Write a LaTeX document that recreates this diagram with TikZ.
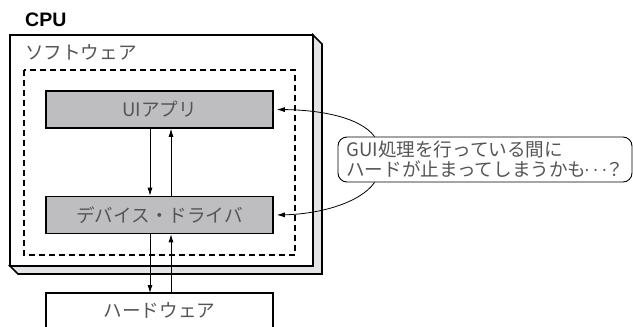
\documentclass[tikz,border=0pt]{standalone}
\usepackage{fontspec}
\setmainfont{Liberation Sans}
\newfontfamily\jp{Noto Sans CJK JP}
\usetikzlibrary{arrows.meta}
\definecolor{boxgray}{RGB}{190,190,193}
\definecolor{sidegray}{RGB}{228,228,230}
\definecolor{txtgray}{RGB}{85,85,85}
\newcommand{\midellip}{\makebox[1em][c]{\raisebox{0.08em}{\rmfamily ·\hspace{0.14em}·\hspace{0.14em}·}}}
\begin{document}
\begin{tikzpicture}[x=1pt,y=-1pt,
  jtext/.style={font=\jp\fontsize{18.6}{20}\selectfont, text=txtgray, inner sep=0pt},
  graybox/.style={draw=black, line width=1.6pt, fill=boxgray, minimum width=227pt, minimum height=37pt, inner sep=0pt, font=\jp\fontsize{18.6}{20}\selectfont, text=txtgray},
  conn/.style={line width=0.8pt, -{Latex[length=8pt,width=5pt]}},
  callout/.style={draw=black, line width=0.9pt, rounded corners=9pt, minimum width=294pt, minimum height=45pt, inner sep=0pt, align=left, font=\jp\fontsize{18.6}{20}\selectfont, text=txtgray}]
\useasboundingbox (0,0) rectangle (633,327);
% CPU 3D box
\draw[line width=1.6pt, fill=sidegray] (313,35) -- (322,44) -- (322,274) -- (18,274) -- (10,266) -- (313,266) -- cycle;
\draw[line width=1.6pt, fill=white] (10,35) rectangle (313,266);
\node[font=\bfseries\fontsize{19.5}{20}\selectfont, anchor=west, inner sep=0pt] (cpu) at (25,20) {CPU};
\node[jtext, anchor=west] (sw) at (25,52) {ソフトウェア};
\draw[line width=1.5pt, dash pattern=on 6pt off 4pt] (24,70) rectangle (295,255);
% boxes
\node[graybox] (ui) at (159.5,109.5) {UIアプリ};
\node[graybox] (dev) at (159.5,215) {デバイス・ドライバ};
\node[minimum width=227pt, minimum height=34pt, inner sep=0pt, anchor=north] (hw) at (159.5,293) {};
\draw[line width=1.6pt] (hw.south west) -- (hw.north west) -- (hw.north east) -- (hw.south east);
\node[jtext] (hwt) at (159.5,310) {ハードウェア};
% vertical arrows
\draw[conn] ([xshift=-9.5pt]ui.south) -- ([xshift=-9.5pt]dev.north);
\draw[conn] ([xshift=11.5pt]dev.north) -- ([xshift=11.5pt]ui.south);
\draw[conn] ([xshift=-9.5pt]dev.south) -- ([xshift=-9.5pt]hw.north);
\draw[conn] ([xshift=11.5pt]hw.north) -- ([xshift=11.5pt]dev.south);
% callout
\node[callout] (call) at (485,159.5) {GUI処理を行っている間に\\ハードが止まってしまうかも\midellip？};
\draw[conn] ([xshift=37pt]call.north west) .. controls (360,117) and (320,110) .. ([xshift=3pt]ui.east);
\draw[conn] ([xshift=37pt]call.south west) .. controls (360,203) and (320,214) .. ([xshift=3pt]dev.east);
\end{tikzpicture}
\end{document}
